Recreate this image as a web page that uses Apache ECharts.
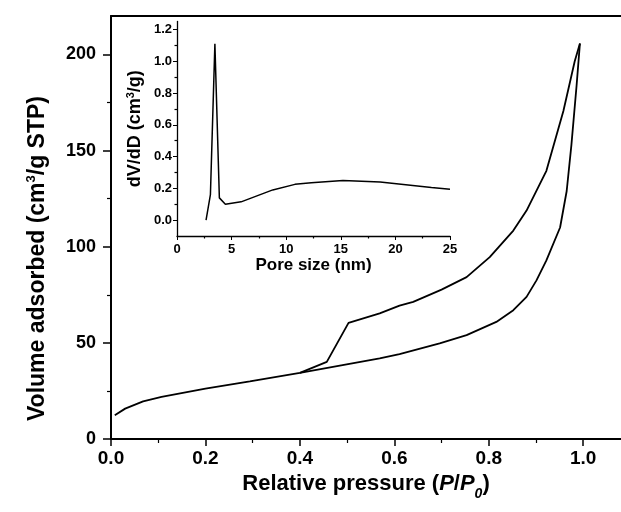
<!DOCTYPE html>
<html>
<head>
<meta charset="utf-8">
<script src="https://cdn.jsdelivr.net/npm/echarts@6/dist/echarts.min.js"></script>
<style>
    html, body {margin: 0; padding: 0; background: #fff;}
    #chart-isotherm-main {width: 621px; height: 512px;}
</style>
</head>
<body>
<div id="chart-isotherm-main"></div>
<script>
// isotherm, adsorption branch (lower)
let adsPressure = [0.008, 0.03, 0.068, 0.107, 0.2, 0.294, 0.4, 0.502, 0.569, 0.611, 0.696, 0.753, 0.816, 0.852, 0.880, 0.901, 0.922, 0.951, 0.965, 0.975, 0.986, 0.993];
let adsVolume = [12.3, 15.8, 19.6, 21.9, 26.2, 30, 34.4, 39, 41.9, 44.2, 49.7, 54, 60.9, 67, 73.9, 82.5, 92.9, 110, 129, 153, 184, 205.7];
// desorption branch (upper), from high to low pressure
let desPressure = [0.993, 0.982, 0.958, 0.922, 0.880, 0.852, 0.802, 0.753, 0.700, 0.640, 0.611, 0.569, 0.503, 0.457, 0.4];
let desVolume = [205.7, 196.5, 170.6, 139.5, 118.8, 108.4, 94.6, 84.2, 77.7, 71.3, 69.4, 65.3, 60.4, 40.1, 34.4];
// pore size distribution (inset)
let poreSize = [2.66, 3.06, 3.47, 3.88, 4.43, 5.87, 8.77, 10.8, 12.3, 15.2, 18.6, 23.3, 25];
let poreDvdd = [0.0, 0.16, 1.11, 0.14, 0.10, 0.115, 0.19, 0.225, 0.235, 0.25, 0.24, 0.205, 0.195];

let mainXMajor = [0, 0.2, 0.4, 0.6, 0.8, 1.0];
let mainXMinor = [0.1, 0.3, 0.5, 0.7, 0.9];
let mainYMajor = [0, 50, 100, 150, 200];
let mainYMinor = [25, 75, 125, 175];
let insetXMajor = [0, 5, 10, 15, 20, 25];
let insetXMinor = [2.5, 7.5, 12.5, 17.5, 22.5];
let insetYMajor = [0, 0.2, 0.4, 0.6, 0.8, 1.0, 1.2];
let insetYMinor = [0.1, 0.3, 0.5, 0.7, 0.9, 1.1];

const fontName = 'Liberation Sans, Arial, sans-serif';
let myChart = echarts.init(document.getElementById('chart-isotherm-main'));

function pairs(xs, ys) {
    return xs.map((x, i) => [x, ys[i]]);
}

function majorAxis(opt) {
    return Object.assign({
        type: 'value',
        splitLine: {show: false},
        axisLine: {show: true, onZero: false, lineStyle: {color: '#000', width: 2}},
        axisTick: {show: true, inside: false, length: 7, lineStyle: {color: '#000', width: 1.5}},
        axisLabel: {color: '#000', fontFamily: fontName, fontWeight: 'bold', fontSize: 18}
    }, opt);
}

// extra axis only for the short ticks between labels
function minorAxis(opt, values, len) {
    return Object.assign({
        type: 'value',
        splitLine: {show: false},
        axisLine: {show: false, onZero: false},
        axisTick: {show: true, inside: false, length: len, customValues: values, lineStyle: {color: '#000', width: 1.2}},
        axisLabel: {show: false}
    }, opt);
}

let option = {
    animation: false,
    backgroundColor: '#fff',
    textStyle: {fontFamily: fontName},
    grid: [
        {left: 111, right: 0, top: 16, bottom: 73},
        {left: 177, right: 171, top: 21.5, bottom: 276}
    ],
    xAxis: [
        majorAxis({
            gridIndex: 0, position: 'bottom', min: 0, max: 1.08,
            axisTick: {show: true, inside: false, length: 7, customValues: mainXMajor, lineStyle: {color: '#000', width: 1.5}},
            axisLabel: {color: '#000', fontFamily: fontName, fontWeight: 'bold', fontSize: 19, margin: 10,
                customValues: mainXMajor, formatter: v => v.toFixed(1)},
            name: 'Relative pressure ({it|P}/{it|P}{sub|0})',
            nameLocation: 'middle', nameGap: 29,
            nameTextStyle: {
                color: '#000', fontFamily: fontName, fontWeight: 'bold', fontSize: 22,
                rich: {
                    it: {fontFamily: fontName, fontWeight: 'bold', fontStyle: 'italic', fontSize: 22, color: '#000'},
                    sub: {fontFamily: fontName, fontWeight: 'bold', fontStyle: 'italic', fontSize: 14, color: '#000',
                        verticalAlign: 'bottom', lineHeight: 14, padding: [0, 0, -6, 0]}
                }
            }
        }),
        minorAxis({gridIndex: 0, position: 'bottom', min: 0, max: 1.08}, mainXMinor, 4),
        {
            type: 'value', gridIndex: 0, position: 'top', min: 0, max: 1.08,
            splitLine: {show: false}, axisTick: {show: false}, axisLabel: {show: false},
            axisLine: {show: true, onZero: false, lineStyle: {color: '#000', width: 2}}
        },
        majorAxis({
            gridIndex: 1, position: 'bottom', min: 0, max: 25,
            axisLine: {show: true, onZero: false, lineStyle: {color: '#000', width: 1.3}},
            axisTick: {show: true, inside: false, length: 4, customValues: insetXMajor, lineStyle: {color: '#000', width: 1}},
            axisLabel: {color: '#000', fontFamily: fontName, fontWeight: 'bold', fontSize: 13, margin: 7,
                customValues: insetXMajor},
            name: 'Pore size (nm)',
            nameLocation: 'middle', nameGap: 20,
            nameTextStyle: {color: '#000', fontFamily: fontName, fontWeight: 'bold', fontSize: 17}
        }),
        minorAxis({gridIndex: 1, position: 'bottom', min: 0, max: 25}, insetXMinor, 2.5)
    ],
    yAxis: [
        majorAxis({
            gridIndex: 0, position: 'left', min: 0, max: 220,
            axisTick: {show: true, inside: false, length: 8, customValues: mainYMajor, lineStyle: {color: '#000', width: 1.5}},
            axisLabel: {color: '#000', fontFamily: fontName, fontWeight: 'bold', fontSize: 18, margin: 15,
                customValues: mainYMajor},
            name: 'Volume adsorbed (cm{sup|3}/g STP)',
            nameLocation: 'middle', nameGap: 60,
            nameTextStyle: {
                color: '#000', fontFamily: fontName, fontWeight: 'bold', fontSize: 23, lineHeight: 26,
                padding: [0, 62, 0, 0],
                rich: {
                    sup: {fontFamily: fontName, fontWeight: 'bold', fontSize: 13, color: '#000',
                        verticalAlign: 'top', lineHeight: 14}
                }
            }
        }),
        minorAxis({gridIndex: 0, position: 'left', min: 0, max: 220}, mainYMinor, 4),
        majorAxis({
            gridIndex: 1, position: 'left', min: -0.1, max: 1.25,
            axisLine: {show: true, onZero: false, lineStyle: {color: '#000', width: 1.3}},
            axisTick: {show: true, inside: false, length: 4, customValues: insetYMajor, lineStyle: {color: '#000', width: 1}},
            axisLabel: {color: '#000', fontFamily: fontName, fontWeight: 'bold', fontSize: 13, margin: 5,
                customValues: insetYMajor, formatter: v => v.toFixed(1)},
            name: 'dV/dD (cm{sup|3}/g)',
            nameLocation: 'middle', nameGap: 32,
            nameTextStyle: {
                color: '#000', fontFamily: fontName, fontWeight: 'bold', fontSize: 18, lineHeight: 20,
                rich: {
                    sup: {fontFamily: fontName, fontWeight: 'bold', fontSize: 11, color: '#000',
                        verticalAlign: 'top', lineHeight: 11}
                }
            }
        }),
        minorAxis({gridIndex: 1, position: 'left', min: -0.1, max: 1.25}, insetYMinor, 2.5)
    ],
    series: [
        {
            name: 'Adsorption', type: 'line', xAxisIndex: 0, yAxisIndex: 0,
            data: pairs(adsPressure, adsVolume), showSymbol: false,
            lineStyle: {color: '#000', width: 1.8}
        },
        {
            name: 'Desorption', type: 'line', xAxisIndex: 0, yAxisIndex: 0,
            data: pairs(desPressure, desVolume), showSymbol: false,
            lineStyle: {color: '#000', width: 1.8}
        },
        {
            name: 'PSD', type: 'line', xAxisIndex: 3, yAxisIndex: 2,
            data: pairs(poreSize, poreDvdd), showSymbol: false,
            lineStyle: {color: '#000', width: 1.5}
        }
    ]
};
option && myChart.setOption(option);
</script>
</body>
</html>
